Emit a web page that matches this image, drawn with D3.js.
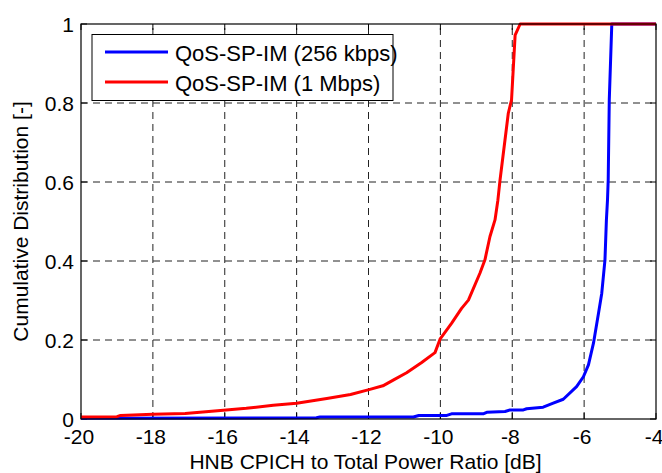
<!DOCTYPE html>
<html><head><meta charset="utf-8">
<script src="https://cdn.jsdelivr.net/npm/d3@7"></script>
<style>body{margin:0;background:#fff}svg{display:block}text{font-family:Arial,"Liberation Sans",sans-serif}</style>
</head><body><svg id="c" width="662" height="473"></svg>
<script>
const seriesNames = ["QoS-SP-IM (256 kbps)", "QoS-SP-IM (1 Mbps)"];
const seriesColors = ["#0000ff", "#ff0000"];
const xTicks = [-20, -18, -16, -14, -12, -10, -8, -6, -4];
const yTicks = [0, 0.2, 0.4, 0.6, 0.8, 1];
const blueX = [-20, -13.45, -13.35, -10.75, -10.6, -9.82, -9.69, -8.81, -8.71, -8.2, -8.06, -7.69, -7.6, -7.14, -6.86, -6.58, -6.21, -6.02, -5.88, -5.74, -5.6, -5.51, -5.42, -5.38, -5.35, -5.33, -5.3, -5.23, -4];
const blueY = [0.002, 0.003, 0.005, 0.005, 0.009, 0.009, 0.013, 0.013, 0.017, 0.019, 0.023, 0.023, 0.026, 0.030, 0.040, 0.050, 0.082, 0.107, 0.137, 0.192, 0.268, 0.318, 0.403, 0.504, 0.554, 0.605, 0.808, 1.0, 1.0];
const redX = [-20, -19.0, -18.9, -18.0, -17.1, -16.2, -15.4, -14.65, -14.0, -13.16, -12.5, -11.96, -11.6, -11.3, -10.94, -10.52, -10.15, -10.01, -9.69, -9.41, -9.22, -8.9, -8.76, -8.62, -8.48, -8.4, -8.34, -8.11, -8.02, -7.92, -7.78, -4];
const redY = [0.005, 0.006, 0.009, 0.012, 0.014, 0.021, 0.027, 0.035, 0.040, 0.052, 0.062, 0.075, 0.084, 0.099, 0.117, 0.143, 0.168, 0.202, 0.242, 0.280, 0.301, 0.369, 0.403, 0.462, 0.504, 0.554, 0.605, 0.774, 0.808, 0.972, 1.0, 1.0];

const svg = d3.select("#c");
const L = 81, R = 656, T = 24, B = 419;
const x = d3.scaleLinear().domain([-20, -4]).range([L, R]);
const y = d3.scaleLinear().domain([0, 1]).range([B, T]);

// grid
const g = svg.append("g");
g.selectAll(".gx").data(xTicks.slice(1, -1)).enter().append("line")
  .attr("x1", d => x(d)).attr("x2", d => x(d)).attr("y1", B).attr("y2", T)
  .attr("stroke", "#222").attr("stroke-width", 1).attr("stroke-dasharray", "7,5");
g.selectAll(".gy").data(yTicks.slice(1, -1)).enter().append("line")
  .attr("y1", d => y(d)).attr("y2", d => y(d)).attr("x1", L).attr("x2", R)
  .attr("stroke", "#222").attr("stroke-width", 1).attr("stroke-dasharray", "7,5");

// ticks (inner, all four sides)
const tl = 6;
xTicks.forEach(d => {
  svg.append("line").attr("x1", x(d)).attr("x2", x(d)).attr("y1", B).attr("y2", B - tl).attr("stroke", "#000");
  svg.append("line").attr("x1", x(d)).attr("x2", x(d)).attr("y1", T).attr("y2", T + tl).attr("stroke", "#000");
});
yTicks.forEach(d => {
  svg.append("line").attr("x1", L).attr("x2", L + tl).attr("y1", y(d)).attr("y2", y(d)).attr("stroke", "#000");
  svg.append("line").attr("x1", R).attr("x2", R - tl).attr("y1", y(d)).attr("y2", y(d)).attr("stroke", "#000");
});

// lines
const line = d3.line().x(d => x(d[0])).y(d => y(d[1]));
const blue = blueX.map((v, i) => [v, blueY[i]]);
const red = redX.map((v, i) => [v, redY[i]]);
svg.append("path").datum(blue).attr("d", line).attr("fill", "none").attr("stroke", seriesColors[0]).attr("stroke-width", 3).attr("stroke-linejoin", "round");
svg.append("path").datum(red).attr("d", line).attr("fill", "none").attr("stroke", seriesColors[1]).attr("stroke-width", 3).attr("stroke-linejoin", "round");

// box
svg.append("rect").attr("x", L).attr("y", T).attr("width", R - L).attr("height", B - T)
  .attr("fill", "none").attr("stroke", "#000").attr("stroke-width", 1.2);

// tick labels
svg.selectAll(".xl").data(xTicks).enter().append("text")
  .attr("x", d => x(d) - 2).attr("y", 444).attr("text-anchor", "middle")
  .attr("font-size", 21).text(d => d);
svg.selectAll(".yl").data(yTicks).enter().append("text")
  .attr("x", 74).attr("y", d => y(d) + 7.5).attr("text-anchor", "end")
  .attr("font-size", 21).text(d => d);

// axis labels
svg.append("text").attr("x", (L + R) / 2 - 3).attr("y", 469).attr("text-anchor", "middle")
  .attr("font-size", 21).text("HNB CPICH to Total Power Ratio [dB]");
svg.append("text").attr("transform", `translate(28,${(T + B) / 2}) rotate(-90)`).attr("text-anchor", "middle")
  .attr("font-size", 21).text("Cumulative Distribution [-]");

// legend
const lg = svg.append("g");
lg.append("rect").attr("x", 92).attr("y", 34.5).attr("width", 301).attr("height", 66)
  .attr("fill", "#fff").attr("stroke", "#000").attr("stroke-width", 1);
seriesNames.forEach((n, i) => {
  const cy = 52 + i * 30;
  lg.append("line").attr("x1", 105).attr("x2", 168).attr("y1", cy).attr("y2", cy)
    .attr("stroke", seriesColors[i]).attr("stroke-width", 3);
  lg.append("text").attr("x", 175).attr("y", cy + 9).attr("font-size", 22).text(n);
});
</script></body></html>
